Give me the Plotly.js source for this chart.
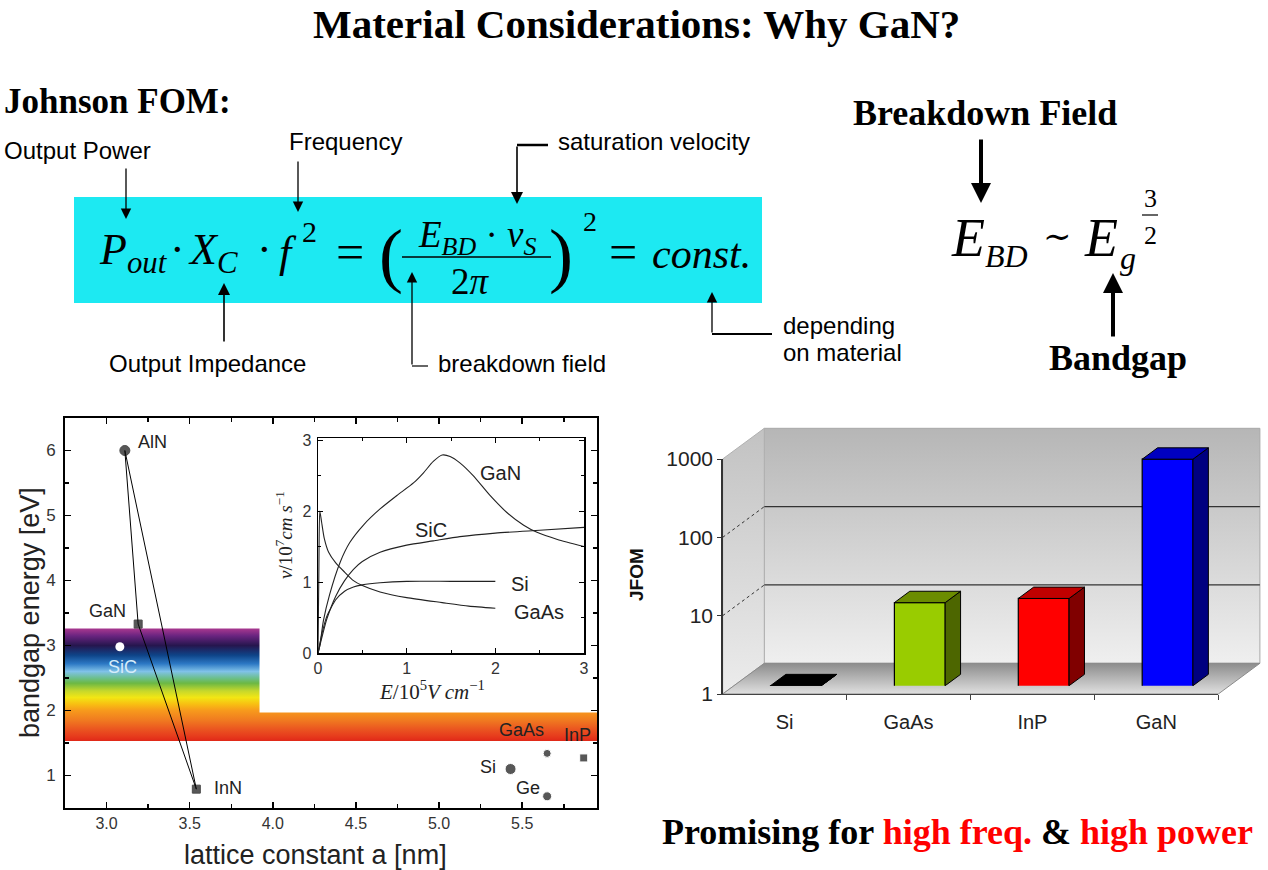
<!DOCTYPE html>
<html><head><meta charset="utf-8">
<script src="https://cdn.plot.ly/plotly-3.0.1.min.js"></script>
<style>html,body{margin:0;padding:0;background:#fff;}#chart{width:1268px;height:870px;}</style>
</head><body><div id="chart"></div>
<script>
// ---------------- data ----------------
const nitrideNames = ['AlN', 'GaN', 'InN'];
const nitrideLattice = [3.11, 3.19, 3.54];
const nitrideGap = [6.0, 3.33, 0.79];
const otherNames = ['Si', 'GaAs', 'Ge', 'InP'];
const otherLattice = [5.43, 5.65, 5.65, 5.87];
const otherGap = [1.10, 1.34, 0.68, 1.27];
const sicName = ['SiC'];
const sicLattice = [3.08];
const sicGap = [2.98];

// visible spectrum band (energy in eV, colour)
const spectrumEnergy = [1.53, 1.60, 1.70, 1.85, 2.00, 2.10, 2.20, 2.30, 2.42, 2.50, 2.60, 2.72, 2.85, 3.00, 3.15, 3.26];
const spectrumColor = ['#e02818', '#e63a1c', '#ea5220', '#f07a20', '#f79a1c', '#f8c012', '#f2e614', '#c6d82c', '#6cb844', '#6cbf8e', '#80c2e8', '#2c78c4', '#0e4488', '#26164e', '#6a2480', '#a8388f'];
const bandLattice = [2.75, 3.92, 5.95];   // left edge, step, right edge
const bandEnergy = [1.53, 1.97, 3.26];    // low, step, high

// inset: drift velocity vs field
const fieldGaN = [0, 0.02, 0.06, 0.13, 0.25, 0.36, 0.51, 0.70, 0.89, 1.08, 1.19, 1.30, 1.40, 1.49, 1.60, 1.75, 1.94, 2.13, 2.32, 2.47, 2.70, 3.0];
const velGaN = [0, 0.10, 0.45, 0.82, 1.28, 1.56, 1.80, 2.03, 2.22, 2.40, 2.54, 2.70, 2.79, 2.77, 2.68, 2.50, 2.22, 1.98, 1.80, 1.70, 1.60, 1.50];
const fieldSiC = [0, 0.05, 0.1, 0.2, 0.3, 0.4, 0.5, 0.7, 1.0, 1.3, 1.6, 2.0, 2.5, 3.0];
const velSiC = [0, 0.25, 0.48, 0.80, 1.02, 1.18, 1.29, 1.42, 1.52, 1.58, 1.64, 1.69, 1.73, 1.77];
const fieldSi = [0, 0.05, 0.1, 0.2, 0.3, 0.4, 0.5, 0.7, 1.0, 1.5, 2.0];
const velSi = [0, 0.30, 0.52, 0.75, 0.87, 0.93, 0.96, 0.99, 1.01, 1.01, 1.01];
const fieldGaAs = [0, 0.01, 0.02, 0.04, 0.07, 0.12, 0.2, 0.3, 0.4, 0.5, 0.7, 1.0, 1.4, 1.7, 2.0];
const velGaAs = [0, 1.2, 2.0, 1.85, 1.62, 1.42, 1.27, 1.14, 1.02, 0.95, 0.86, 0.78, 0.71, 0.66, 0.63];
const insetLabels = ['GaN', 'SiC', 'Si', 'GaAs'];
const insetLabelField = [2.06, 1.28, 2.28, 2.49];
const insetLabelVel = [2.53, 1.73, 0.97, 0.58];

// Johnson FOM bar chart
const jfomMaterials = ['Si', 'GaAs', 'InP', 'GaN'];
const jfomValues = [1, 11.5, 13, 780];
const jfomTicks = [1, 10, 100, 1000];
const jfomGrid = [10, 100];

// ---------------- helpers ----------------
const W = 1268, H = 870;
const SANS = 'Liberation Sans, Arial, sans-serif';
const SERIF = 'Liberation Serif, Times New Roman, serif';
const px = v => v / W;
const py = v => 1 - v / H;
function ann(text, x, y, o) {
  return Object.assign({text: text, x: px(x), y: py(y), xref: 'paper', yref: 'paper', showarrow: false,
    xanchor: 'center', yanchor: 'middle', font: {family: SANS, size: 24, color: '#000'}}, o || {});
}
function arrow(hx, hy, tx, ty, w, s) {
  return {text: '', x: px(hx), y: py(hy), xref: 'paper', yref: 'paper', showarrow: true, ax: tx - hx, ay: ty - hy,
    arrowhead: 2, arrowsize: s, arrowwidth: w, arrowcolor: '#000', standoff: 0, startstandoff: 0};
}
function line(x0, y0, x1, y1, w) {
  return {type: 'line', xref: 'paper', yref: 'paper', x0: px(x0), y0: py(y0), x1: px(x1), y1: py(y1), line: {color: '#000', width: w}};
}

// 3D bar chart geometry (pixels)
const FX0 = 722.7, FY0 = 694, CW = 123.9, DH = 78.33, BDX = 41.6, BDY = 30.7;
const BAR_OFF = 0.27, BAR_DEPTH = 0.37, BAR_W = 0.41;
function plane(ox, oy, cr, lr) {
  const xp = c => FX0 + ox + (c + 0.5) * CW;
  const yp = l => FY0 - oy - l * DH;
  return {xd: [xp(cr[0]) / W, xp(cr[1]) / W], yd: [1 - yp(lr[0]) / H, 1 - yp(lr[1]) / H]};
}
const sc = BDX / CW, sl = BDY / DH;
const backR = {c: [-0.5 - sc - 0.02, 3.52], l: [-sl - 0.03, 3.03]};
const backP = plane(BDX, BDY, backR.c, backR.l);
const frontP = plane(0, 0, [-0.5, 3.5], [0, 3]);
const barR = {c: [-0.5, 3.5], l: [0, 3.2]};
const barP = plane(BAR_OFF * BDX, BAR_OFF * BDY, barR.c, barR.l);
const dc = BAR_DEPTH * BDX / CW, g = Math.pow(10, BAR_DEPTH * BDY / DH);
const hw = BAR_W / 2;

// ---------------- traces ----------------
const traces = [];
const eSpan = bandEnergy[2] - bandEnergy[0];
traces.push({type: 'scatter', xaxis: 'x', yaxis: 'y', mode: 'lines', fill: 'toself', line: {width: 0},
  x: [bandLattice[0], bandLattice[2], bandLattice[2], bandLattice[1], bandLattice[1], bandLattice[0], bandLattice[0]],
  y: [bandEnergy[0], bandEnergy[0], bandEnergy[1], bandEnergy[1], bandEnergy[2], bandEnergy[2], bandEnergy[0]],
  fillcolor: '#f08020',
  fillgradient: {type: 'vertical', colorscale: spectrumEnergy.map((e, i) => [(e - bandEnergy[0]) / eSpan, spectrumColor[i]])}});
traces.push({type: 'scatter', xaxis: 'x', yaxis: 'y', mode: 'lines',
  x: [nitrideLattice[0], nitrideLattice[2]], y: [nitrideGap[0], nitrideGap[2]], line: {color: '#000', width: 1}});
traces.push({type: 'scatter', xaxis: 'x', yaxis: 'y', mode: 'lines+markers', x: nitrideLattice, y: nitrideGap,
  line: {color: '#000', width: 1}, marker: {color: '#111', size: [10, 8, 8], symbol: ['circle', 'square', 'square']}});
traces.push({type: 'scatter', xaxis: 'x', yaxis: 'y', mode: 'markers', x: otherLattice, y: otherGap,
  marker: {color: '#111', size: [11, 8, 9, 8], symbol: ['circle', 'circle', 'circle', 'square']}});
traces.push({type: 'scatter', xaxis: 'x', yaxis: 'y', mode: 'markers', x: sicLattice, y: sicGap,
  marker: {color: '#fff', size: 9, symbol: 'circle'}});

[[fieldGaN, velGaN], [fieldSiC, velSiC], [fieldSi, velSi], [fieldGaAs, velGaAs]].forEach(c => {
  traces.push({type: 'scatter', xaxis: 'x2', yaxis: 'y2', mode: 'lines', x: c[0], y: c[1],
    line: {color: '#222', width: 1.1, shape: 'spline', smoothing: 0.6}});
});

// back plane: wall, side wall, floor, grid
traces.push({type: 'scatter', xaxis: 'x3', yaxis: 'y3', mode: 'lines', fill: 'toself',
  x: [-0.5, 3.5, 3.5, -0.5, -0.5], y: [1, 1, 1000, 1000, 1], line: {color: '#a8a8a8', width: 1},
  fillcolor: '#d4d4d4', fillgradient: {type: 'vertical', colorscale: [[0, '#efefef'], [1, '#b6b6b6']]}});
traces.push({type: 'scatter', xaxis: 'x3', yaxis: 'y3', mode: 'lines', fill: 'toself',
  x: [-0.5 - sc, -0.5, -0.5, -0.5 - sc, -0.5 - sc], y: [Math.pow(10, -sl), 1, 1000, Math.pow(10, 3 - sl), Math.pow(10, -sl)],
  line: {color: '#b0b0b0', width: 1}, fillcolor: '#d8d8d8',
  fillgradient: {type: 'vertical', colorscale: [[0, '#ececec'], [1, '#c2c2c2']]}});
traces.push({type: 'scatter', xaxis: 'x3', yaxis: 'y3', mode: 'lines', fill: 'toself',
  x: [-0.5, 3.5, 3.5 - sc, -0.5 - sc, -0.5], y: [1, 1, Math.pow(10, -sl), Math.pow(10, -sl), 1],
  line: {color: '#8a8a8a', width: 1}, fillcolor: '#b8b8b8',
  fillgradient: {type: 'vertical', colorscale: [[0, '#e0e0e0'], [1, '#8c8c8c']]}});
jfomGrid.forEach(t => {
  traces.push({type: 'scatter', xaxis: 'x3', yaxis: 'y3', mode: 'lines', x: [-0.5, 3.5], y: [t, t], line: {color: '#333', width: 1.2}});
  traces.push({type: 'scatter', xaxis: 'x3', yaxis: 'y3', mode: 'lines', x: [-0.5 - sc, -0.5], y: [t * Math.pow(10, -sl), t],
    line: {color: '#333', width: 1, dash: 'dot'}});
});
// front axes carrier (invisible) so the front frame/ticks are drawn
traces.push({type: 'scatter', xaxis: 'x4', yaxis: 'y4', mode: 'markers', x: [0, 1, 2, 3], y: jfomValues,
  marker: {opacity: 0, size: 1}});

// bars
const frontCol = ['#000000', '#99cc00', '#ff0000', '#0000ff'];
const sideCol = ['#000000', '#4d6600', '#800000', '#000080'];
const topCol = ['#000000', '#6b8c00', '#c00000', '#0000c0'];
traces.push({type: 'bar', xaxis: 'x5', yaxis: 'y5', x: [0, 1, 2, 3], y: jfomValues, width: BAR_W,
  marker: {color: frontCol, line: {color: '#000', width: 1.2}}});
jfomValues.forEach((v, i) => {
  traces.push({type: 'scatter', xaxis: 'x5', yaxis: 'y5', mode: 'lines', fill: 'toself', fillcolor: sideCol[i],
    x: [i + hw, i + hw + dc, i + hw + dc, i + hw, i + hw], y: [1, g, v * g, v, 1], line: {color: '#000', width: 1}});
  traces.push({type: 'scatter', xaxis: 'x5', yaxis: 'y5', mode: 'lines', fill: 'toself', fillcolor: topCol[i],
    x: [i - hw, i - hw + dc, i + hw + dc, i + hw, i - hw], y: [v, v * g, v * g, v, v], line: {color: '#000', width: 1}});
});

// ---------------- layout ----------------
const axBox = {showgrid: false, zeroline: false, showline: true, linecolor: '#000', mirror: 'ticks', ticks: 'inside', tickcolor: '#000'};
const hidden = {visible: false, fixedrange: true};
const layout = {
  width: W, height: H, margin: {l: 0, r: 0, t: 0, b: 0}, paper_bgcolor: '#fff', plot_bgcolor: 'rgba(0,0,0,0)', showlegend: false,
  xaxis: Object.assign({}, axBox, {domain: [px(65), px(597)], range: [2.75, 5.95], anchor: 'y', linewidth: 2, ticklen: 6, tickwidth: 1.5,
    tickmode: 'linear', tick0: 3, dtick: 0.5, tickformat: '.1f', tickfont: {family: SANS, size: 16, color: '#333'},
    minor: {dtick: 0.25, ticks: 'inside', ticklen: 4, tickcolor: '#000'}}),
  yaxis: Object.assign({}, axBox, {domain: [py(808), py(418)], range: [0.5, 6.5], anchor: 'x', linewidth: 2, ticklen: 6, tickwidth: 1.5,
    tickmode: 'linear', tick0: 0, dtick: 1, tickfont: {family: SANS, size: 17, color: '#333'}, ticklabelstandoff: 4,
    minor: {dtick: 0.5, ticks: 'inside', ticklen: 4, tickcolor: '#000'}}),
  xaxis2: Object.assign({}, axBox, {domain: [px(318), px(584)], range: [0, 3], anchor: 'y2', linewidth: 1.5, ticklen: 5,
    tickmode: 'linear', tick0: 0, dtick: 1, tickfont: {family: SANS, size: 16, color: '#333'},
    minor: {dtick: 0.5, ticks: 'inside', ticklen: 3, tickcolor: '#000'}}),
  yaxis2: Object.assign({}, axBox, {domain: [py(653), py(438)], range: [0, 3.03], anchor: 'x2', linewidth: 1.5, ticklen: 5,
    tickmode: 'linear', tick0: 0, dtick: 1, tickfont: {family: SANS, size: 16, color: '#333'}, ticklabelstandoff: 2,
    minor: {dtick: 0.5, ticks: 'inside', ticklen: 3, tickcolor: '#000'}}),
  xaxis3: Object.assign({}, hidden, {domain: backP.xd, range: backR.c, anchor: 'y3'}),
  yaxis3: Object.assign({}, hidden, {domain: backP.yd, range: backR.l, type: 'log', anchor: 'x3'}),
  xaxis4: {domain: frontP.xd, range: [-0.5, 3.5], anchor: 'y4', showgrid: false, zeroline: false, showline: true, linecolor: '#444', linewidth: 1.3,
    tickmode: 'array', tickvals: [0, 1, 2, 3], ticktext: jfomMaterials, ticks: '', ticklabelstandoff: 10,
    tickfont: {family: SANS, size: 20, color: '#222'}, fixedrange: true,
    minor: {tickmode: 'array', tickvals: [0.5, 1.5, 2.5, 3.5], ticks: 'outside', ticklen: 5, tickcolor: '#444'}},
  yaxis4: {domain: frontP.yd, range: [0, 3], type: 'log', anchor: 'x4', showgrid: false, zeroline: false, showline: true, linecolor: '#333', linewidth: 1.5,
    tickmode: 'array', tickvals: jfomTicks, ticktext: jfomTicks.map(String), ticks: 'outside', ticklen: 4, tickcolor: '#333',
    tickfont: {family: SANS, size: 21, color: '#222'}, fixedrange: true},
  xaxis5: Object.assign({}, hidden, {domain: barP.xd, range: barR.c, anchor: 'y5'}),
  yaxis5: Object.assign({}, hidden, {domain: barP.yd, range: barR.l, type: 'log', anchor: 'x5'}),
  shapes: [
    {type: 'rect', xref: 'paper', yref: 'paper', x0: px(74), x1: px(762), y0: py(303), y1: py(197), fillcolor: '#1de9f2', line: {width: 0}, layer: 'below'},
    line(517, 145, 548, 145, 2.5),
    line(412, 366, 428, 366, 1.2),
    line(712, 334, 772, 334, 2.2),
    line(402, 257, 551, 257, 1.5),
    line(1142, 215, 1158, 215, 1.2)
  ],
  annotations: []
};
const A = layout.annotations;
A.push(ann('<b>Material Considerations: Why GaN?</b>', 636, 24, {font: {family: SERIF, size: 41, color: '#000'}}));
A.push(ann('<b>Johnson FOM:</b>', 2, 101, {xanchor: 'left', font: {family: SERIF, size: 35, color: '#000'}}));
A.push(ann('Output Power', 2, 151, {xanchor: 'left'}));
A.push(ann('Frequency', 287, 142, {xanchor: 'left'}));
A.push(ann('saturation velocity', 556, 142, {xanchor: 'left'}));
A.push(ann('Output Impedance', 107, 363, {xanchor: 'left'}));
A.push(ann('breakdown field', 436, 363, {xanchor: 'left'}));
A.push(ann('depending', 781, 325, {xanchor: 'left'}));
A.push(ann('on material', 781, 352, {xanchor: 'left'}));
A.push(arrow(126, 219, 126, 167, 1.3, 1.6));
A.push(arrow(298, 212, 298, 160, 1.3, 1.6));
A.push(arrow(517, 204, 517, 145, 1.6, 1.5));
A.push(arrow(224, 283, 224, 343, 1.6, 1.5));
A.push(arrow(412, 272, 412, 366, 1.3, 1.6));
A.push(arrow(712, 292, 712, 334, 1.3, 1.6));
// formula
const FF = {family: SERIF, size: 44, color: '#000'};
A.push(ann('<i>P</i><sub><i>out</i></sub>', 97, 252, {xanchor: 'left', font: FF}));
A.push(ann('·', 177, 250, {font: FF}));
A.push(ann('<i>X</i><sub><i>C</i></sub>', 186, 252, {xanchor: 'left', font: FF}));
A.push(ann('·', 264, 250, {font: FF}));
A.push(ann('<i>f</i>', 277, 252, {xanchor: 'left', font: FF}));
A.push(ann('2', 309, 232, {font: {family: SERIF, size: 30, color: '#000'}}));
A.push(ann('=', 350, 252, {font: {family: SERIF, size: 50, color: '#000'}}));
A.push(ann('(', 391, 255, {font: {family: SERIF, size: 72, color: '#000'}}));
A.push(ann('<i>E</i><sub><i>BD</i></sub> · <i>v</i><sub><i>S</i></sub>', 477, 237, {font: {family: SERIF, size: 37, color: '#000'}}));
A.push(ann('2<i>π</i>', 470, 281, {font: {family: SERIF, size: 37, color: '#000'}}));
A.push(ann(')', 561, 255, {font: {family: SERIF, size: 72, color: '#000'}}));
A.push(ann('2', 590, 221, {font: {family: SERIF, size: 28, color: '#000'}}));
A.push(ann('=', 623, 252, {font: {family: SERIF, size: 50, color: '#000'}}));
A.push(ann('<i>const.</i>', 650, 254, {xanchor: 'left', font: {family: SERIF, size: 42, color: '#000'}}));
// right formula
A.push(ann('<b>Breakdown Field</b>', 985, 113, {font: {family: SERIF, size: 36, color: '#000'}}));
A.push(ann('<b>Bandgap</b>', 1118, 358, {font: {family: SERIF, size: 36, color: '#000'}}));
A.push(arrow(981, 203, 981, 138, 4, 1));
A.push(arrow(1113, 273, 1113, 338, 4, 1));
A.push(ann('<i>E</i>', 968, 238, {font: {family: SERIF, size: 54, color: '#000'}}));
A.push(ann('<i>BD</i>', 983, 256, {xanchor: 'left', font: {family: SERIF, size: 32, color: '#000'}}));
A.push(ann('∼', 1057, 236, {font: {family: 'DejaVu Serif', size: 34, color: '#000'}}));
A.push(ann('<i>E</i>', 1101, 238, {font: {family: SERIF, size: 54, color: '#000'}}));
A.push(ann('<i>g</i>', 1118, 258, {xanchor: 'left', font: {family: SERIF, size: 32, color: '#000'}}));
A.push(ann('3', 1150, 199, {font: {family: SERIF, size: 26, color: '#000'}}));
A.push(ann('2', 1150, 235, {font: {family: SERIF, size: 26, color: '#000'}}));
// left chart labels
const LF = {family: SANS, size: 18, color: '#222'};
const nitShift = [[28, 8], [-31, 13], [32, 1]];
nitrideNames.forEach((n, i) => A.push({text: n, x: nitrideLattice[i], y: nitrideGap[i], xref: 'x', yref: 'y', showarrow: false,
  xshift: nitShift[i][0], yshift: nitShift[i][1], font: LF}));
const othShift = [[-23, 2], [-26, 23], [-19, 8], [-6, 23]];
otherNames.forEach((n, i) => A.push({text: n, x: otherLattice[i], y: otherGap[i], xref: 'x', yref: 'y', showarrow: false,
  xshift: othShift[i][0], yshift: othShift[i][1], font: LF}));
A.push({text: sicName[0], x: sicLattice[0], y: sicGap[0], xref: 'x', yref: 'y', showarrow: false, xshift: 3, yshift: -20,
  font: {family: SANS, size: 18, color: '#d6ecfa'}});
insetLabels.forEach((n, i) => A.push({text: n, x: insetLabelField[i], y: insetLabelVel[i], xref: 'x2', yref: 'y2', showarrow: false,
  font: {family: SANS, size: 20, color: '#222'}}));
A.push(ann('bandgap energy [eV]', 30, 613, {textangle: -90, font: {family: SANS, size: 27, color: '#222'}}));
A.push(ann('lattice constant a [nm]', 315, 855, {font: {family: SANS, size: 27, color: '#222'}}));
A.push(ann('<i>v</i>/10<sup>7</sup><i>cm s</i><sup>−1</sup>', 284, 535, {textangle: -90, font: {family: SERIF, size: 19, color: '#222'}}));
A.push(ann('<i>E</i>/10<sup>5</sup><i>V cm</i><sup>−1</sup>', 432, 690, {font: {family: SERIF, size: 21, color: '#222'}}));
A.push(ann('<b>JFOM</b>', 636, 575, {textangle: -90, font: {family: SANS, size: 19, color: '#111'}}));
A.push(ann('<b>Promising for <span style="color:#ff0000">high freq.</span> &amp; <span style="color:#ff0000">high power</span></b>', 660, 832,
  {xanchor: 'left', font: {family: SERIF, size: 36, color: '#000'}}));

Plotly.newPlot('chart', traces, layout, {staticPlot: true, displayModeBar: false});
</script></body></html>
